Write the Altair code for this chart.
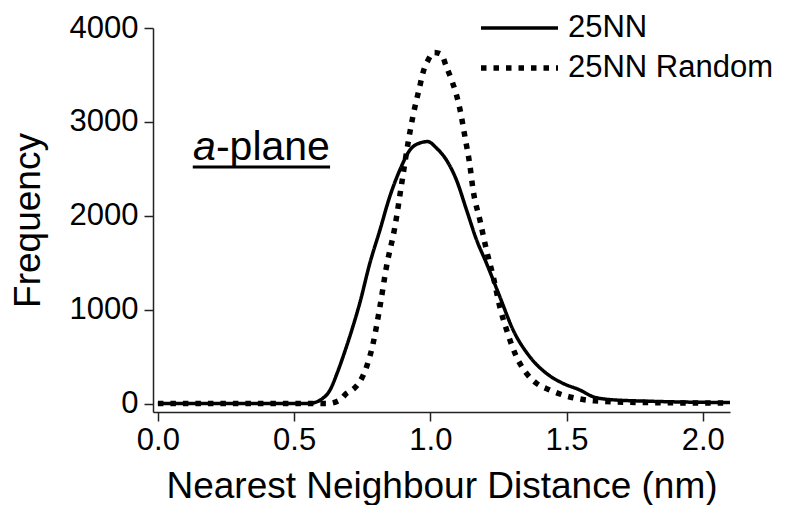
import altair as alt
import pandas as pd

# --- data ---
nn_x = [0.0, 0.2, 0.4, 0.55, 0.58, 0.60, 0.631, 0.66, 0.692, 0.72, 0.741, 0.778, 0.815, 0.851,
        0.888, 0.925, 0.961, 0.99, 1.023, 1.059, 1.096, 1.133, 1.170, 1.206, 1.255, 1.304,
        1.365, 1.426, 1.487, 1.549, 1.60, 1.67, 1.8, 1.95, 2.1]
nn_y = [0, 0, 0, 0, 15, 45, 140, 340, 605, 860, 1070, 1495, 1848, 2203,
        2487, 2700, 2775, 2790, 2720, 2594, 2380, 2061, 1741, 1495, 1138, 783,
        499, 322, 215, 144, 70, 40, 25, 15, 10]

rnd_x = [0.0, 0.2, 0.4, 0.62, 0.668, 0.692, 0.72, 0.741, 0.766, 0.790, 0.815, 0.839, 0.870,
         0.894, 0.919, 0.937, 0.961, 0.974, 0.992, 1.015, 1.040, 1.059, 1.078, 1.096, 1.108,
         1.127, 1.145, 1.157, 1.182, 1.206, 1.231, 1.255, 1.280, 1.316, 1.353, 1.390,
         1.439, 1.487, 1.537, 1.6, 1.8, 2.1]
rnd_y = [0, 0, 0, 0, 37, 108, 160, 232, 392, 641, 1031, 1457, 1883,
         2327, 2789, 3073, 3375, 3535, 3659, 3740, 3720, 3588, 3446, 3286, 3144,
         2842, 2541, 2274, 1955, 1635, 1351, 1031, 783, 499, 322, 215,
         144, 91, 55, 30, 10, 5]

series_names = ["25NN", "25NN Random"]
x_ticks = [0.0, 0.5, 1.0, 1.5, 2.0]
y_ticks = [0, 1000, 2000, 3000, 4000]

df = pd.concat([
    pd.DataFrame({"x": nn_x, "y": nn_y, "series": series_names[0]}),
    pd.DataFrame({"x": rnd_x, "y": rnd_y, "series": series_names[1]}),
])

FONT = "Liberation Sans"

xscale = alt.Scale(domain=[-0.018, 2.1], nice=False, zero=False)
yscale = alt.Scale(domain=[-90, 4000], nice=False, zero=False)

lines = alt.Chart(df).mark_line(color="black", interpolate="monotone").encode(
    x=alt.X("x:Q", scale=xscale, title="Nearest Neighbour Distance (nm)",
            axis=alt.Axis(values=x_ticks, format=".1f")),
    y=alt.Y("y:Q", scale=yscale, title="Frequency",
            axis=alt.Axis(values=y_ticks, format="d")),
    strokeDash=alt.StrokeDash(
        "series:N",
        scale=alt.Scale(domain=series_names, range=[[1, 0], [5.5, 7]]),
        legend=alt.Legend(
            orient="none", legendX=325, legendY=-18, title=None,
            symbolType="stroke", symbolSize=5929, symbolStrokeWidth=5,
            symbolStrokeColor="black", clipHeight=36, rowPadding=4,
            labelFontSize=31, labelFont=FONT, labelColor="black",
            labelOffset=7, padding=0, labelLimit=400,
        ),
    ),
    strokeWidth=alt.StrokeWidth(
        "series:N",
        scale=alt.Scale(domain=series_names, range=[3.5, 5.5]),
        legend=None,
    ),
)

ann = pd.DataFrame({"x": [0.213], "y": [2593], "a": ["a"], "rest": ["-plane"]})
ul = pd.DataFrame({"x": [0.128], "x2": [0.632], "y": [2519]})

text_a = alt.Chart(ann).mark_text(
    font=FONT, fontSize=41, fontStyle="italic", align="right", baseline="alphabetic", color="black"
).encode(x=alt.X("x:Q", scale=xscale), y=alt.Y("y:Q", scale=yscale), text="a:N")

text_rest = alt.Chart(ann).mark_text(
    font=FONT, fontSize=41, align="left", baseline="alphabetic", color="black"
).encode(x=alt.X("x:Q", scale=xscale), y=alt.Y("y:Q", scale=yscale), text="rest:N")

underline = alt.Chart(ul).mark_rule(color="black", strokeWidth=3).encode(
    x=alt.X("x:Q", scale=xscale), x2="x2:Q", y=alt.Y("y:Q", scale=yscale)
)

chart = alt.layer(lines, text_a, text_rest, underline).properties(
    width=577, height=384,
    padding={"left": 145, "top": 20, "right": 50, "bottom": 93},
    autosize=alt.AutoSizeParams(type="none"),
).configure_view(strokeWidth=0).configure_axis(
    grid=False,
    domainColor="#222222", domainWidth=1.5,
    tickColor="#222222", tickWidth=1.5, tickSize=9,
    labelFont=FONT, labelFontSize=31, labelColor="black", labelPadding=4,
    titleFont=FONT, titleFontSize=37, titleColor="black", titleFontWeight="normal",
).configure_axisX(titlePadding=13).configure_axisY(titlePadding=22, labelPadding=6)

chart.save("out.html", embed_options={"renderer": "svg", "actions": False})
